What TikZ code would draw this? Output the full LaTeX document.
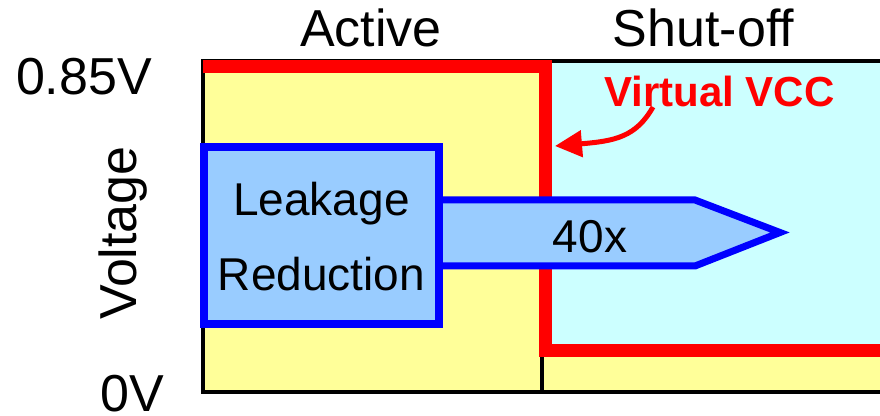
\documentclass[tikz,border=0pt]{standalone}
\usepackage{fontspec}
\setmainfont{Liberation Sans}
\usetikzlibrary{arrows.meta}
\definecolor{ylw}{HTML}{FFFF99}
\definecolor{cyn}{HTML}{CCFFFF}
\definecolor{lblue}{HTML}{99CCFF}
\definecolor{bblue}{HTML}{0000FF}
\definecolor{rred}{HTML}{FF0000}
\tikzset{
  big/.style={inner sep=0pt, font=\fontsize{52}{60}\selectfont, anchor=base},
  mid/.style={inner sep=0pt, font=\fontsize{46}{54}\selectfont, anchor=base},
  vcc/.style={inner sep=0pt, font=\fontsize{42}{50}\selectfont\bfseries, text=rred, anchor=base},
  frame/.style={line width=4pt, black},
  redline/.style={line width=13pt, rred, miter limit=10},
  bluebox/.style={line width=8pt, draw=bblue, fill=lblue},
  bluearrow/.style={line width=7pt, draw=bblue, fill=lblue, miter limit=10},
  pointer/.style={line width=5pt, rred, -{Triangle[length=27pt,width=26pt]}}
}
\begin{document}
\begin{tikzpicture}[x=1pt,y=1pt]
\useasboundingbox (0,0) rectangle (880,415);
% backgrounds
\fill[ylw] (203,23) rectangle (880,354);
\fill[cyn] (546,64) rectangle (880,352);
% black frame
\draw[frame] (882,353.5) -- (203,353.5) -- (203,23) -- (882,23);
\draw[frame] (541.5,23) -- (541.5,64);
% red virtual VCC line
\draw[redline] (203,348.5) -- (545.5,348.5) -- (545.5,64.5) -- (886,64.5);
% leakage arrow and box
\draw[bluearrow] (439,215) -- (695,215) -- (780,182.5) -- (695,149) -- (439,149) -- cycle;
\draw[bluebox] (204,268) rectangle (439,91);
% labels
\node[big] (active) at (371,368) {Active};
\node[big] (shutoff) at (703.5,368) {Shut-off};
\node[big] (vhigh) at (84,320) {0.85V};
\node[big] (vlow) at (132,3.5) {0V};
\node[big, rotate=90] (voltage) at (136,182) {Voltage};
\node[mid] (leak) at (321.5,199) {Leakage};
\node[mid] (red) at (321.5,124) {Reduction};
\node[mid] (forty) at (590,162) {40x};
\node[vcc] (vvcc) at (719.5,308) {Virtual VCC};
% pointer
\coordinate (vstart) at (653,308);
\coordinate (vend) at (555,269);
\draw[pointer] (vstart) .. controls (636,278) and (615,274) .. (vend);
\end{tikzpicture}
\end{document}
